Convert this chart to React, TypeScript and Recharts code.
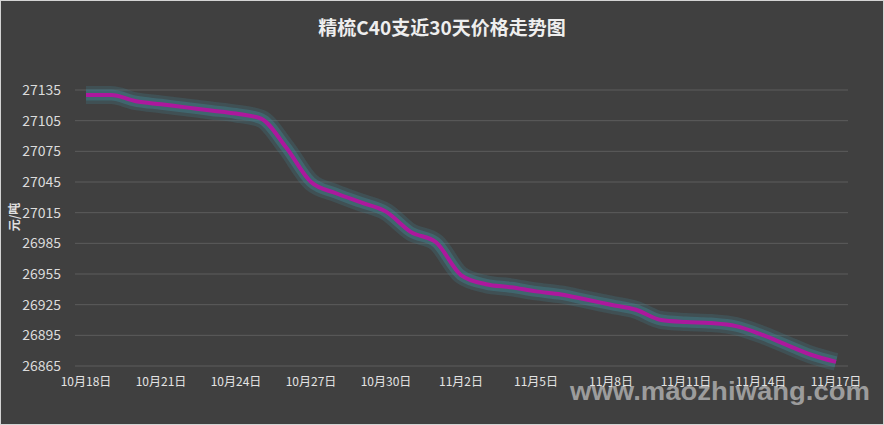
import React from "react";
import { LineChart, Line, XAxis, YAxis, CartesianGrid } from "recharts";

const dates = [
    "10月18日", "10月19日", "10月20日", "10月21日", "10月22日", "10月23日", "10月24日",
    "10月25日", "10月26日", "10月27日", "10月28日", "10月29日", "10月30日", "10月31日",
    "11月1日", "11月2日", "11月3日", "11月4日", "11月5日", "11月6日", "11月7日",
    "11月8日", "11月9日", "11月10日", "11月11日", "11月12日", "11月13日", "11月14日",
    "11月15日", "11月16日", "11月17日",
];

const prices = [
    27130, 27130, 27124, 27121, 27118, 27115, 27112,
    27107, 27079, 27045, 27034, 27025, 27016, 26996,
    26986, 26954, 26945, 26942, 26938, 26935, 26930,
    26925, 26920, 26910, 26908, 26907, 26904, 26896,
    26886, 26876, 26869,
];

const yTicks = [26865, 26895, 26925, 26955, 26985, 27015, 27045, 27075, 27105, 27135];

const title = "精梳C40支近30天价格走势图";
const unit = "元/吨";
const watermark = "www.maozhiwang.com";

const data = dates.map((d, i) => ({ date: d, price: prices[i] }));

const font = '"Noto Sans CJK SC", "Noto Sans", sans-serif';

const UnitLabel = () => (
    <text
        x={13}
        y={217}
        transform="rotate(-90 13 217)"
        textAnchor="middle"
        dominantBaseline="central"
        fill="#e0e0e0"
        fontSize={12}
        fontWeight="bold"
        fontFamily={font}
    >
        {unit}
    </text>
);

const App: React.FC = () => {
    return (
        <div
            style={{
                position: "absolute",
                left: 0,
                top: 0,
                width: 884,
                height: 425,
                background: "#404040",
                fontFamily: font,
                overflow: "hidden",
            }}
        >
            <div
                style={{
                    position: "absolute",
                    left: 0,
                    top: 14,
                    width: 884,
                    textAlign: "center",
                    color: "#eeeeee",
                    fontSize: 19,
                    fontWeight: "bold",
                    lineHeight: "26px",
                }}
            >
                {title}
            </div>
            {/* watermark sits under the axis labels */}
            <div
                style={{
                    position: "absolute",
                    left: 570,
                    top: 379,
                    color: "#9c9c9c",
                    fontSize: 25,
                    fontWeight: "bold",
                    fontFamily: '"Liberation Sans", Arial, sans-serif',
                    whiteSpace: "nowrap",
                    lineHeight: "25px",
                    transform: "scaleX(1.1)",
                    transformOrigin: "left top",
                }}
            >
                {watermark}
            </div>
            <LineChart
                width={884}
                height={425}
                data={data}
                margin={{ top: 90, right: 36, left: 0, bottom: 29 }}
                style={{ position: "absolute", left: 0, top: 0 }}
            >
                <CartesianGrid vertical={false} stroke="#5c5c5c" strokeWidth={1} />
                <XAxis
                    dataKey="date"
                    interval={2}
                    axisLine={false}
                    tickLine={false}
                    tickSize={0}
                    tickMargin={11}
                    height={30}
                    padding={{ left: 11, right: 12 }}
                    tick={{ fill: "#e4e4e4", fontSize: 12, fontFamily: font }}
                />
                <YAxis
                    domain={[26865, 27135]}
                    ticks={yTicks}
                    interval={0}
                    width={75}
                    axisLine={false}
                    tickLine={false}
                    tickSize={0}
                    tickMargin={14}
                    tick={{ fill: "#dcdcdc", fontSize: 14, fontFamily: font }}
                    label={{ content: <UnitLabel /> }}
                />
                <Line
                    type="monotone"
                    dataKey="price"
                    stroke="#3f7f8e"
                    strokeOpacity={0.25}
                    strokeWidth={18}
                    dot={false}
                    activeDot={false}
                    isAnimationActive={false}
                />
                <Line
                    type="monotone"
                    dataKey="price"
                    stroke="#41808f"
                    strokeOpacity={0.45}
                    strokeWidth={11}
                    dot={false}
                    activeDot={false}
                    isAnimationActive={false}
                />
                <Line
                    type="monotone"
                    dataKey="price"
                    stroke="#ad189d"
                    strokeWidth={4}
                    dot={false}
                    activeDot={false}
                    isAnimationActive={false}
                />
            </LineChart>
            <div
                style={{
                    position: "absolute",
                    left: 0,
                    top: 0,
                    width: 884,
                    height: 425,
                    boxSizing: "border-box",
                    border: "1px solid #d4d4d4",
                    pointerEvents: "none",
                }}
            />
        </div>
    );
};

export default App;
